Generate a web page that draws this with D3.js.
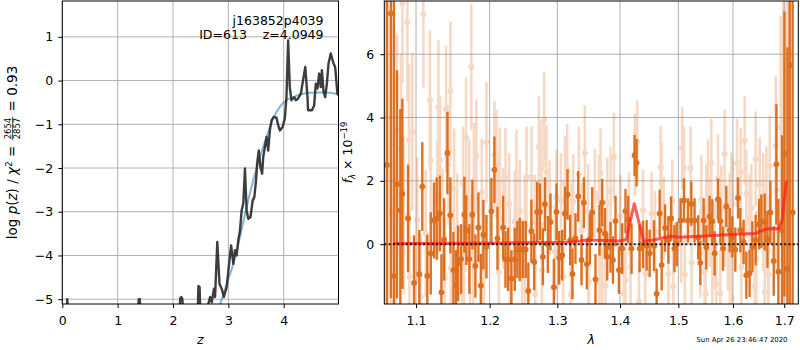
<!DOCTYPE html>
<html>
<head>
<meta charset="utf-8">
<script src="https://cdn.jsdelivr.net/npm/d3@7"></script>
<style>
  body { margin: 0; background: #fff; }
  svg { display: block; font-family: "DejaVu Sans", sans-serif; }
</style>
</head>
<body>
<svg width="800" height="350"></svg>
<script>
// ---- left panel: log p(z) ----
const zTicks = [0, 1, 2, 3, 4];
const pzTicks = [-5, -4, -3, -2, -1, 0, 1];
const pzZ = [0.00,0.07,0.09,0.11, 1.36,1.38,1.40,1.42, 2.11,2.13,2.15,2.17,2.19, 2.44,2.46,2.48,2.50,
  2.60,2.64,2.67,2.70,2.74,2.76,2.80,2.84,2.88,2.92,2.97,3.02,3.05,3.09,3.12,3.15,3.18,3.21,3.24,3.27,
  3.30,3.33,3.36,3.40,3.44,3.47,3.50,3.52,3.55,3.58,3.61,3.63,3.66,3.69,3.72,3.75,3.78,3.82,3.87,3.90,
  3.93,3.98,4.02,4.05,4.08,4.11,4.14,4.19,4.22,4.26,4.31,4.35,4.39,4.43,4.44,4.51,4.55,4.58,4.61,4.64,
  4.67,4.69,4.72,4.75,4.78,4.81,4.85,4.90,4.93,4.97,4.99];
const pzLog = [-5.6,-5.6,-5.0,-5.6, -5.6,-5.0,-5.0,-5.6, -5.6,-4.98,-4.95,-5.0,-5.6, -5.6,-4.70,-4.72,-5.6,
  -5.6,-5.10,-4.95,-5.07,-4.76,-4.95,-3.69,-4.65,-4.76,-4.95,-4.72,-4.11,-3.77,-4.19,-3.88,-4.0,-3.65,-3.43,-2.97,-2.81,
  -2.01,-2.97,-3.16,-3.12,-2.74,-2.66,-2.28,-1.90,-1.60,-1.98,-2.13,-1.75,-1.52,-1.29,-1.60,-1.14,-0.91,-0.83,-0.85,-1.02,
  -1.14,-1.06,-0.87,-0.38,0.92,-0.15,-0.45,-0.38,-0.45,-0.41,-0.30,0.01,0.31,-0.38,-0.68,-0.68,-0.57,-0.07,-0.18,0.16,
  -0.15,0.24,-0.26,-0.38,-0.07,0.39,0.62,0.39,0.31,-0.30,-0.34];
const fitZ = [2.83,2.97,3.09,3.21,3.33,3.45,3.57,3.69,3.81,3.93,4.05,4.17,4.29,4.47,4.66,4.84,4.99];
const fitLog = [-5.2,-4.65,-4.19,-3.58,-2.89,-2.28,-1.75,-1.29,-0.87,-0.6,-0.45,-0.38,-0.32,-0.28,-0.27,-0.28,-0.32];

// ---- right panel: spectrum ----
const waveTicks = [1.1, 1.2, 1.3, 1.4, 1.5, 1.6, 1.7];
const fluxTicks = [0, 2, 4, 6];
const darkWave = [1.0627,1.0678,1.0716,1.0755,1.0798,1.0824,1.0897,1.0974,1.1043,1.1082,
  1.1148,1.1193,1.1236,1.1272,1.1313,1.1335,1.1371,1.1416,1.1456,1.1497,
  1.1530,1.1561,1.1602,1.1647,1.1674,1.1716,1.1758,1.1800,1.1842,1.1876,1.1912,1.1955,
  1.2025,1.2068,1.2112,1.2193,1.2227,1.2265,1.2313,1.2362,1.2400,1.2435,
  1.2479,1.2523,1.2562,1.2607,1.2649,1.2694,1.2735,1.2780,1.2810,1.2855,
  1.2895,1.2947,1.2987,1.3029,1.3075,1.3117,1.3158,1.3199,1.3235,1.3282,
  1.3325,1.3377,1.3415,1.3462,1.3510,1.3547,
  1.3600,1.3665,1.3708,1.3752,1.3790,1.3844,1.3883,1.3926,1.3982,1.4036,
  1.4091,1.4136,1.4192,1.4243,1.4277,1.4328,1.4386,1.4448,1.4499,1.4575,
  1.4620,1.4672,1.4707,1.4766,1.4824,1.4872,1.4930,1.4971,1.5039,1.5100,
  1.5171,1.5231,1.5290,
  1.5355,1.5394,1.5455,1.5504,1.5564,1.5614,1.5657,1.5720,1.5763,1.5813,
  1.5875,1.5938,1.5988,1.6045,1.6096,1.6140,1.6203,1.6255,1.6318,1.6371,
  1.6435,1.6502,1.6547,1.6612,1.6665,1.6724,1.6790,1.6843,1.6883,1.6957,
  1.7004,1.7064,1.7110,1.7170];
const darkFlux = [2.5,7.29,-1.0,1.89,1.07,1.59,0.81,-1.22,-0.95,1.82,
  -1.0,-0.29,0.75,0.81,0.97,-1.52,0.15,2.88,0.91,-0.82,
  -1.29,-0.61,-0.47,0.93,0.44,-0.47,0.93,-0.69,0.53,-1.31,0.30,-0.08,
  1.04,2.35,0.18,0.53,-0.48,-0.48,-1.09,-0.48,-0.17,-0.17,
  -0.17,-0.17,-1.48,0.41,-0.56,1.02,1.02,-0.40,1.26,-0.01,
  0.70,-1.36,1.02,-0.43,-0.35,0.97,1.57,0.13,-0.94,0.18,
  1.51,-0.50,1.31,-0.63,0.16,1.0,
  -1.11,0.44,1.31,0.34,-0.40,-0.10,-0.50,0.73,-0.82,-0.14,
  1.04,0.78,-0.14,2.80,2.57,-0.14,-0.01,-0.04,-0.29,-0.05,
  -1.57,0.97,-0.66,0.51,0.13,0.81,-0.14,0.0,0.75,1.38,
  0.75,1.28,0.75,
  0.21,-0.59,0.75,-0.10,0.88,0.72,-0.29,1.42,0.73,-0.14,
  1.19,0.44,0.23,-0.17,1.46,0.44,0.07,-0.98,-0.92,-0.08,
  0.13,0.63,0.72,0.70,0.15,1.0,-0.53,2.52,-0.87,0.44,
  2.85,-0.78,5.66,1.0];
const darkErr = [9,9,9,3.6,3.2,3.0,1.7,1.5,1.4,1.4,
  1.3,1.3,1.2,1.3,1.2,1.2,1.3,1.3,1.2,1.2,
  1.1,1.2,1.1,1.2,1.1,1.1,1.1,1.0,1.1,1.0,1.1,1.0,
  1.05,1.05,1.0,1.0,0.9,1.0,0.9,1.0,0.9,1.0,
  0.9,0.9,0.9,1.0,0.9,0.95,0.9,0.9,0.85,0.9,
  0.9,0.9,0.9,0.85,0.8,0.85,0.8,0.8,0.8,0.8,
  0.8,0.8,0.8,0.8,0.8,0.8,
  0.8,0.8,0.75,0.8,0.75,0.8,0.75,0.8,0.75,0.8,
  0.7,0.75,0.8,0.65,0.75,0.75,0.75,0.8,0.75,0.8,
  0.8,0.75,0.8,0.75,0.75,0.7,0.75,0.7,0.7,0.7,
  0.7,0.7,0.7,
  0.7,0.7,0.7,0.7,0.65,0.7,0.7,0.65,0.7,0.7,
  0.65,0.7,0.65,0.7,0.65,0.7,0.7,0.75,0.75,0.8,
  0.8,0.8,0.85,0.9,0.9,1.0,1.1,1.9,2.3,3.0,
  4.5,7,9,9];

const lightWave = [1.0640,1.0680,1.0735,1.0755,1.0806,1.0824,1.0841,1.0888,1.0909,1.0915,1.0952,
  1.1017,1.1062,1.1096,1.1127,1.1182,1.1193,1.1281,1.1295,1.1317,1.1348,1.1380,1.1397,1.1429,
  1.1456,1.1462,1.1506,1.1550,1.1619,1.1629,1.1642,1.1671,1.1712,1.1726,1.1743,1.1770,1.1780,
  1.1813,1.1890,1.1898,1.1922,1.1955,
  1.2069,1.2097,1.2122,1.2132,1.2146,1.2193,1.2227,1.2280,1.2290,1.2362,1.2387,1.2436,1.2471,
  1.2510,1.2515,1.2535,1.2609,1.2659,1.2665,1.2719,1.2758,1.2765,1.2799,1.2834,1.2881,1.2962,
  1.2987,1.3054,1.3091,1.3117,1.3153,1.3210,1.3220,1.3246,1.3335,1.3377,1.3430,1.3483,1.3489,1.3495,
  1.3589,1.3654,1.3665,1.3681,1.3708,1.3762,1.3790,1.3844,1.3900,1.4008,1.4064,1.4091,1.4148,
  1.4175,1.4249,1.4288,1.4317,1.4386,1.4425,1.4533,1.4591,1.4688,1.4708,1.4746,1.4824,1.4892,
  1.4909,1.5048,1.5069,1.5100,1.5114,1.5218,1.5236,
  1.5394,1.5412,1.5473,1.5492,1.5504,1.5535,1.5564,1.5596,1.5614,1.5657,1.5688,1.5720,1.5763,
  1.5782,1.5843,1.5850,1.5906,1.5938,1.5944,1.5969,1.5975,1.5988,1.6077,1.6146,1.6159,1.6223,
  1.6255,1.6318,1.6351,1.6416,1.6435,1.6448,1.6514,1.6580,1.6586,1.6612,1.6645,1.6679,1.6685,
  1.6710,1.6829,1.6843,1.6929,1.6980,1.7050,1.7100];
const lightFlux = [4.0,1.0,-0.27,3.60,2.99,7.59,0.91,7.01,3.30,-1.03,3.55,
  0.75,-1.66,7.25,0.34,4.55,2.64,1.38,4.34,2.66,0.49,-1.06,4.27,2.51,
  4.84,-0.76,1.75,0.44,-1.57,1.91,-0.82,3.36,1.49,-0.29,5.60,-0.08,2.03,
  2.77,1.64,-1.64,-0.71,3.22,
  2.82,2.54,1.33,-0.89,1.99,0.81,2.08,1.28,-0.29,0.72,2.01,1.05,-0.71,
  0.54,-1.45,2.12,2.12,0.70,-1.58,3.08,2.41,-0.82,3.93,2.27,1.15,-0.24,
  1.49,1.38,-1.03,1.91,2.31,-1.60,0.44,1.33,2.20,0.44,2.88,1.02,-0.40,-1.18,
  1.61,1.44,-1.22,2.25,-0.71,-1.32,1.33,1.68,2.75,0.88,-1.55,-1.15,0.97,
  -0.71,2.83,3.24,-1.81,1.07,-0.94,0.97,0.39,2.43,1.91,0.81,-0.94,1.38,
  -1.34,0.07,3.03,2.41,-0.97,2.41,-0.59,
  -0.29,1.41,-0.87,-1.57,1.12,1.91,0.70,2.56,-0.66,-0.03,-1.24,2.07,-1.55,
  1.10,2.85,0.67,-0.08,0.86,-1.18,1.49,-1.71,1.28,2.56,2.27,-0.71,3.27,
  1.59,0.81,1.14,-1.34,2.69,-0.45,1.88,1.38,0.65,-1.51,1.49,-0.19,-0.97,
  2.46,3.11,1.70,3.71,4.5,3.0,6.0];
const lightErr = [6,6,3.0,3.0,3.0,2.5,2.5,2.5,2.4,2.3,2.5,
  2.0,2.0,2.3,2.0,2.2,2.0,1.9,2.1,2.0,1.9,1.9,2.0,1.9,
  2.2,1.8,1.9,1.8,1.8,1.8,1.8,1.9,1.8,1.8,2.0,1.8,1.8,
  1.8,1.7,1.7,1.7,1.9,
  1.7,1.7,1.6,1.6,1.7,1.6,1.6,1.6,1.6,1.6,1.6,1.6,1.5,
  1.6,1.5,1.6,1.6,1.5,1.5,1.6,1.5,1.5,1.5,1.5,1.5,1.5,
  1.5,1.5,1.5,1.5,1.5,1.5,1.5,1.5,1.5,1.5,1.5,1.5,1.5,1.5,
  1.4,1.4,1.4,1.4,1.4,1.4,1.4,1.4,1.4,1.3,1.3,1.3,1.3,
  1.3,1.3,1.3,1.3,1.3,1.3,1.3,1.3,1.3,1.3,1.3,1.3,1.3,
  1.3,1.3,1.3,1.3,1.3,1.3,1.3,
  1.4,1.4,1.4,1.4,1.4,1.4,1.4,1.4,1.4,1.4,1.4,1.4,1.4,
  1.4,1.4,1.4,1.4,1.4,1.4,1.4,1.4,1.4,1.4,1.4,1.4,1.4,
  1.4,1.4,1.4,1.5,1.5,1.5,1.5,1.5,1.5,1.5,1.6,1.6,1.6,
  1.6,2.2,2.5,3.5,4.5,6,6];

const modelWave = [1.0714,1.1452,1.2150,1.3147,1.3356,1.3467,1.4003,1.4103,1.4238,1.4397,1.4567,
  1.4857,1.5034,1.5639,1.6140,1.6429,1.6659,1.6889,1.6957,1.7043];
const modelFlux = [0.02,0.03,0.04,0.06,0.10,0.13,0.10,0.15,1.28,0.09,0.13,
  0.25,0.22,0.27,0.32,0.34,0.49,0.49,0.75,2.0];

const svg = d3.select("svg");
const fs = 12.5;
const gridColor = "#b0b0b0";
const orange = "#dc6a16";

// left axes box
const L = {x0: 62.3, x1: 338.5, y0: 1, y1: 304};
const xZ = d3.scaleLinear().domain([0, 4.99]).range([L.x0, L.x1]);
const yP = d3.scaleLinear().domain([-5.11, 1.82]).range([L.y1, L.y0]);

// right axes box
const R = {x0: 384.3, x1: 798.3, y0: 1, y1: 304};
const xW = d3.scaleLog().domain([1.0595, 1.7285]).range([R.x0, R.x1]);
const yF = d3.scaleLinear().domain([-1.89, 7.68]).range([R.y1, R.y0]);

const defs = svg.append("defs");
defs.append("clipPath").attr("id", "clipL").append("rect")
  .attr("x", L.x0).attr("y", L.y0).attr("width", L.x1 - L.x0).attr("height", L.y1 - L.y0);
defs.append("clipPath").attr("id", "clipR").append("rect")
  .attr("x", R.x0).attr("y", R.y0).attr("width", R.x1 - R.x0).attr("height", R.y1 - R.y0);

const grid = (box, x, y, xt, yt) => {
  const g = svg.append("g").attr("stroke", gridColor).attr("stroke-width", 1);
  g.selectAll(".gx").data(xt).join("line")
    .attr("x1", d => x(d)).attr("x2", d => x(d)).attr("y1", box.y0).attr("y2", box.y1);
  g.selectAll(".gy").data(yt).join("line")
    .attr("y1", d => y(d)).attr("y2", d => y(d)).attr("x1", box.x0).attr("x2", box.x1);
};
grid(L, xZ, yP, zTicks, pzTicks);
grid(R, xW, yF, waveTicks, fluxTicks);

// left panel curves
const pzData = pzZ.map((z, i) => ({x: z, y: pzLog[i]}));
const fitData = fitZ.map((z, i) => ({x: z, y: fitLog[i]}));
const gl = svg.append("g").attr("clip-path", "url(#clipL)");
gl.append("path")
  .attr("d", d3.line().x(d => xZ(d.x)).y(d => yP(d.y)).curve(d3.curveMonotoneX)(fitData))
  .attr("fill", "none").attr("stroke", "#1f77b4").attr("stroke-opacity", 0.55).attr("stroke-width", 2);
gl.append("path")
  .attr("d", d3.line().x(d => xZ(d.x)).y(d => yP(d.y))(pzData))
  .attr("fill", "none").attr("stroke", "#333").attr("stroke-opacity", 0.95)
  .attr("stroke-width", 2.4).attr("stroke-linejoin", "round");

// right panel error bars
const gr = svg.append("g").attr("clip-path", "url(#clipR)");
const errBars = (wave, flux, err, opacity, width, radius) => {
  const pts = wave.map((w, i) => ({w, f: flux[i], e: err[i]}));
  const g = gr.append("g").attr("opacity", opacity);
  g.selectAll("line").data(pts).join("line")
    .attr("x1", d => xW(d.w)).attr("x2", d => xW(d.w))
    .attr("y1", d => yF(d.f - d.e)).attr("y2", d => yF(d.f + d.e))
    .attr("stroke", orange).attr("stroke-width", width);
  g.selectAll("circle").data(pts).join("circle")
    .attr("cx", d => xW(d.w)).attr("cy", d => yF(d.f)).attr("r", radius)
    .attr("fill", orange);
};
errBars(lightWave, lightFlux, lightErr, 0.25, 2.6, 3);
errBars(darkWave, darkFlux, darkErr, 0.95, 2.4, 2.9);

const modelData = modelWave.map((w, i) => ({w, f: modelFlux[i]}));
gr.append("path")
  .attr("d", d3.line().x(d => xW(d.w)).y(d => yF(d.f))(modelData))
  .attr("fill", "none").attr("stroke", "#ff1a1a").attr("stroke-opacity", 0.7)
  .attr("stroke-width", 3).attr("stroke-linejoin", "round");
gr.append("line")
  .attr("x1", R.x0).attr("x2", R.x1).attr("y1", yF(0)).attr("y2", yF(0))
  .attr("stroke", "#000").attr("stroke-opacity", 0.85).attr("stroke-width", 2)
  .attr("stroke-dasharray", "2,2.3");

// axes
const styleAxis = g => {
  g.select(".domain").remove();
  g.selectAll("text").attr("font-size", fs).attr("font-family", "DejaVu Sans").attr("fill", "#000");
  g.selectAll("line").attr("stroke", "#000");
};
svg.append("g").attr("transform", `translate(0,${L.y1})`)
  .call(d3.axisBottom(xZ).tickValues(zTicks).tickSize(4).tickPadding(8).tickFormat(d3.format("d")))
  .call(styleAxis);
svg.append("g").attr("transform", `translate(${L.x0},0)`)
  .call(d3.axisLeft(yP).tickValues(pzTicks).tickSize(4).tickPadding(5).tickFormat(d3.format("d")))
  .call(styleAxis);
svg.append("g").attr("transform", `translate(0,${R.y1})`)
  .call(d3.axisBottom(xW).tickValues(waveTicks).tickSize(4).tickPadding(8).tickFormat(d3.format(".1f")))
  .call(styleAxis);
svg.append("g").attr("transform", `translate(${R.x0},0)`)
  .call(d3.axisLeft(yF).tickValues(fluxTicks).tickSize(4).tickPadding(6).tickFormat(d3.format("d")))
  .call(styleAxis);

[L, R].forEach(b => {
  svg.append("rect").attr("x", b.x0).attr("y", b.y0)
    .attr("width", b.x1 - b.x0).attr("height", b.y1 - b.y0)
    .attr("fill", "none").attr("stroke", "#000").attr("stroke-width", 1);
});

// texts
const mathText = (parent, parts, size) => {
  let x = 0;
  parts.forEach(p => {
    if (p.frac) {
      const a = parent.append("text").attr("font-size", p.s).text(p.frac[0]);
      const b = parent.append("text").attr("font-size", p.s).text(p.frac[1]);
      const w = Math.max(a.node().getComputedTextLength(), b.node().getComputedTextLength()) + 2;
      a.attr("x", x + 1 + w / 2).attr("y", -6.2).attr("text-anchor", "middle");
      b.attr("x", x + 1 + w / 2).attr("y", 2.6).attr("text-anchor", "middle");
      parent.append("line").attr("x1", x + 1).attr("x2", x + 1 + w)
        .attr("y1", -4.6).attr("y2", -4.6).attr("stroke", "#000").attr("stroke-width", 0.7);
      x += w + 2;
    } else {
      const t = parent.append("text").attr("x", x).attr("y", p.dy || 0)
        .attr("font-size", p.s || size).style("white-space", "pre")
        .attr("font-style", p.i ? "italic" : null).text(p.t);
      x += t.node().getComputedTextLength();
    }
  });
  return x;
};

const ylL = svg.append("g");
const wL = mathText(ylL, [
  {t: "log "}, {t: "p", i: 1}, {t: "("}, {t: "z", i: 1}, {t: ") / "},
  {t: "χ", i: 1}, {t: "2", s: 9, dy: -5.5}, {t: " = "},
  {frac: ["2654", "2857"], s: 8.5}, {t: " = 0.93"}
], 13.5);
ylL.attr("transform", `translate(17,${(L.y0 + L.y1) / 2 + wL / 2}) rotate(-90)`);

const ylR = svg.append("g");
const wR = mathText(ylR, [
  {t: "f", i: 1}, {t: "λ", i: 1, s: 8.5, dy: 3}, {t: " × 10"}, {t: "−19", s: 8.5, dy: -5}
], fs);
ylR.attr("transform", `translate(352,${(R.y0 + R.y1) / 2 + wR / 2}) rotate(-90)`);

svg.append("text").attr("x", (L.x0 + L.x1) / 2).attr("y", 344).attr("text-anchor", "middle")
  .attr("font-size", fs).attr("font-style", "italic").text("z");
svg.append("text").attr("x", (R.x0 + R.x1) / 2).attr("y", 344).attr("text-anchor", "middle")
  .attr("font-size", fs).attr("font-style", "italic").text("λ");

svg.append("text").attr("x", 323.5).attr("y", 24.5).attr("text-anchor", "end")
  .attr("font-size", fs).text("j163852p4039");
svg.append("text").attr("x", 323.5).attr("y", 38.5).attr("text-anchor", "end")
  .attr("font-size", fs).style("white-space", "pre").text("ID=613    z=4.0949");

svg.append("text").attr("x", 787.5).attr("y", 342).attr("text-anchor", "end")
  .attr("font-size", 6.9).text("Sun Apr 26 23:46:47 2020");
</script>
</body>
</html>
